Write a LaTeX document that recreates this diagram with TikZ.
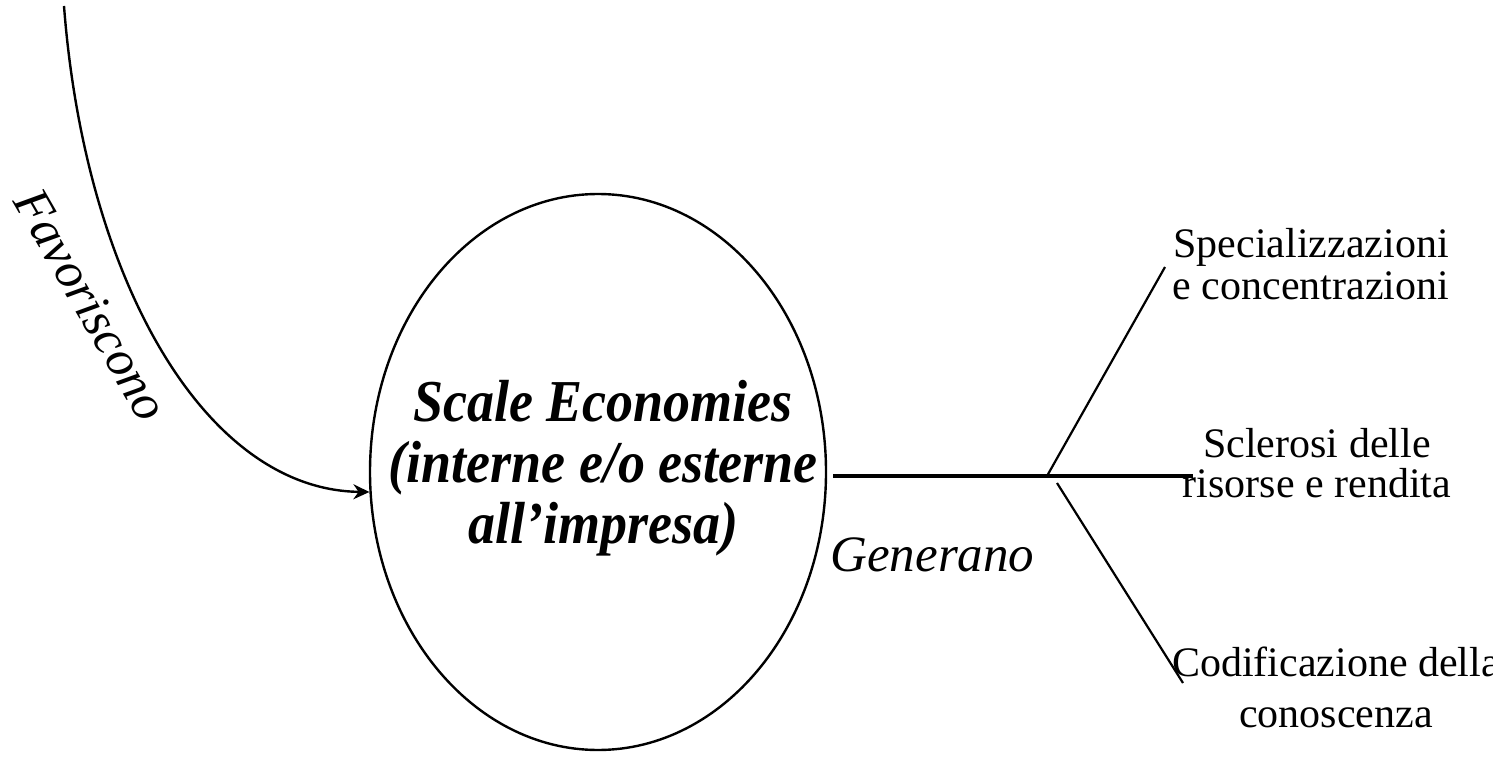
\documentclass[tikz,border=0pt]{standalone}
\usepackage{graphicx}
\usepackage{fontspec}
\setmainfont{Liberation Serif}
\usetikzlibrary{shapes.geometric,arrows.meta}
\newcommand\tallline[1]{\scalebox{1}[1.1]{#1}}
\begin{document}
\begin{tikzpicture}[x=0.5pt,y=-0.5pt,
  lbl/.style={font=\fontsize{21}{21}\selectfont, align=center, anchor=base, inner sep=0pt},
  verb/.style={font=\fontsize{25.5}{30}\selectfont\itshape, inner sep=0pt},
  bubble/.style={ellipse, draw, line width=1.2pt, minimum width=228pt, minimum height=278pt, inner sep=0pt},
  bubbletext/.style={align=center, anchor=base, inner sep=0pt, font=\fontsize{27}{30.5}\selectfont\bfseries\itshape},
  link/.style={line width=1.1pt},
  mainlink/.style={line width=1.6pt}]
\useasboundingbox (0,0) rectangle (1493,764);
\fill[white] (0,0) rectangle (1493,764);

\node[bubble] (se) at (598,472) {};
\node[bubbletext] (set) at (603,543) {\tallline{Scale Economies}\\\tallline{(interne e/o esterne}\\\tallline{all’impresa)}};

\coordinate (c0) at (64,6);
\draw[line width=1.2pt, -{Stealth[length=8pt,width=7.5pt]}] (c0) .. controls (85,280) and (205,490) .. (se.185);
\node[verb, rotate=-60, anchor=base] (fav) at (77,313) {Favoriscono};

\coordinate (h0) at (833,476);
\coordinate (h1) at (1193,476);
\coordinate (jn) at (1047,476);
\coordinate (jl) at (1057,483);
\coordinate (e1) at (1165,267);
\coordinate (e3) at (1183,683);
\draw[mainlink] (h0) -- (h1);
\draw[link] (jn) -- (e1);
\draw[link] (jl) -- (e3);

\node[verb, anchor=base west] (gen) at (830,571) {Generano};

\node[lbl] (spec) at (1311,300) {Specializzazioni\\e concentrazioni};
\node[lbl, font=\fontsize{21}{20}\selectfont] (scl) at (1317,497) {Sclerosi delle\\risorse e rendita};
\node[lbl, font=\fontsize{21}{25.5}\selectfont] (cod) at (1336,727) {Codificazione della\\conoscenza};
\end{tikzpicture}
\end{document}
